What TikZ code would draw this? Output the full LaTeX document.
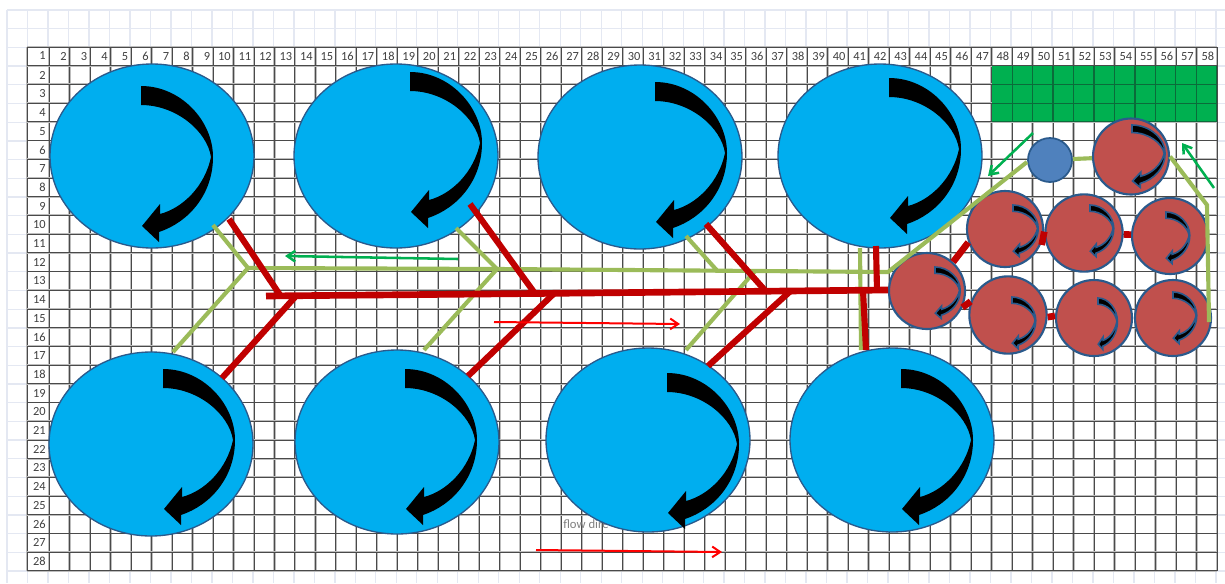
\documentclass[tikz,border=0pt]{standalone}
\usepackage{fontspec}
\setmainfont{Carlito}
\usetikzlibrary{shapes.geometric,arrows.meta}
\definecolor{lightgrid}{HTML}{E4E8F2}
\definecolor{gridhalo}{HTML}{BDBDBD}
\definecolor{griddark}{HTML}{4A4A4A}
\definecolor{vessel}{HTML}{00AEEF}
\definecolor{edgeblue}{HTML}{2A5A8C}
\definecolor{brick}{HTML}{C0504D}
\definecolor{steel}{HTML}{4F81BD}
\definecolor{pipered}{HTML}{C00000}
\definecolor{pipegreen}{HTML}{9BBB59}
\definecolor{flowgreen}{HTML}{00B050}
\definecolor{flowgreenline}{HTML}{0B6B3A}
\tikzset{
  bigtank/.style={ellipse,draw=edgeblue,line width=1pt,fill=vessel,minimum width=153pt,minimum height=138pt,inner sep=0pt},
  smalltank/.style={circle,draw=edgeblue,line width=1.6pt,fill=brick,minimum size=57pt,inner sep=0pt},
  bluetank/.style={circle,draw=edgeblue,line width=1.3pt,fill=steel,minimum size=33pt,inner sep=0pt},
  redpipe/.style={draw=pipered,line width=5pt},
  thinredpipe/.style={draw=pipered,line width=4.6pt},
  greenpipe/.style={draw=pipegreen,line width=3.1pt},
  flowarrowgreen/.style={draw=flowgreen,line width=1.9pt,-{Straight Barb[length=6pt,width=8pt]}},
  flowarrowred/.style={draw=red,line width=1.5pt,-{Straight Barb[length=6pt,width=8pt]}},
  hdr/.style={anchor=east,font=\fontsize{9.3}{9.3}\selectfont,text=black!75,inner sep=0pt},
  swirl/.style={fill=black,draw=none},
  smallswirl/.style={fill=black,draw=edgeblue,line width=1.2pt},
}
\newcommand{\swirlpath}{(0,0) .. controls (40,0) and (72,35) .. (72,71)
  .. controls (72,108) and (48,136) .. (18,146) -- (18,156) -- (1,140) -- (19,118) -- (19,128)
  .. controls (42,122) and (64,100) .. (70,71) .. controls (66,45) and (35,19) .. (0,19) -- cycle}
\begin{document}
\begin{tikzpicture}[x=0.75pt,y=-0.75pt]
\useasboundingbox (0,0) rectangle (1225,583);
\fill[white] (0,0) rectangle (1225,583);
% pale sheet behind the table
\foreach \i in {0,...,59} \draw[lightgrid,line width=1pt] ({7+20.49*\i},10) -- ({7+20.49*\i},583);
\foreach \j in {0,...,30} \draw[lightgrid,line width=1pt] (7,{10+18.7*\j}) -- (1225,{10+18.7*\j});
\fill[white] (27,47) rectangle (1217,571);
% table grid
\foreach \i in {0,...,58} {
  \pgfmathsetmacro{\gx}{\i==0 ? 27 : 49+20.49*(\i-1)}
  \draw[gridhalo,line width=1.7pt] (\gx,47) -- (\gx,571);
  \draw[griddark,line width=.6pt] (\gx,47) -- (\gx,571);
}
\foreach \j in {0,...,28} {
  \draw[gridhalo,line width=1.4pt] (27,{47+18.71*\j}) -- (1217,{47+18.71*\j});
  \draw[griddark,line width=.6pt] (27,{47+18.71*\j}) -- (1217,{47+18.71*\j});
}
% green block, with its own darker cell lines
\fill[flowgreen] (992,66) rectangle (1217,121);
\begin{scope}
\clip (992,66) rectangle (1217,121);
\foreach \i in {47,...,58} \draw[flowgreenline,line width=.8pt] ({49+20.49*(\i-1)},66) -- ({49+20.49*(\i-1)},121);
\foreach \j in {1,...,4} \draw[flowgreenline,line width=.8pt] (992,{47+18.71*\j}) -- (1217,{47+18.71*\j});
\end{scope}
\node[hdr] (c1) at (46,56) {1};
\foreach \i in {2,...,58} \node[hdr] (c\i) at ({49+20.49*(\i-1)-2.5},56.5) {\i};
\foreach \j in {2,...,28} \node[hdr] (r\j) at (46,{47+18.71*(\j-.5)}) {\j};
\node[anchor=west,inner sep=0pt,text=black!50,font=\fontsize{9.5}{9.5}\selectfont] (flowtext) at (563,524) {flow dire};
% tanks
\node[bigtank] (E1) at (152,156) {};
\node[bigtank] (E2) at (396,156) {};
\node[bigtank] (E3) at (640,157) {};
\node[bigtank] (E4) at (880,156) {};
\node[bigtank] (E5) at (151,444) {};
\node[bigtank] (E6) at (397,442) {};
\node[bigtank] (E7) at (648,440) {};
\node[bigtank] (E8) at (892,440) {};
\foreach \ax/\ay in {141/86,410/72,655/82,889/78,163/369,405/369,667/373,901/369}
  \path[swirl,shift={(\ax,\ay)}] \swirlpath;
\node[smalltank] (R0) at (1131,156.5) {};
\node[smalltank] (R1) at (1005,229) {};
\node[smalltank,minimum size=58pt] (R2) at (1084,233) {};
\node[smalltank] (R3) at (1170,236) {};
\node[smalltank] (R4) at (927,291) {};
\node[smalltank,minimum size=58pt] (R5) at (1008,315) {};
\node[smalltank] (R6) at (1094,318) {};
\node[smalltank] (R7) at (1173,318) {};
\node[bluetank] (B0) at (1050,160) {};
\path[smallswirl,shift={(1132,125)},xscale=.46,yscale=.40] \swirlpath;
\foreach \ax/\ay/\sx in {1013/205/.35,1090/205/.33,1166/212/.33,935/267/.35,1012/297/.33,1098/298/.27,1173/292/.33}
  \path[smallswirl,shift={(\ax,\ay)},xscale=\sx,yscale=.33] \swirlpath;
% junctions and free ends
\coordinate (mainL) at (266,296);
\coordinate (mainR) at (888,290);
\coordinate (j1) at (280,295);
\coordinate (j2) at (296,296);
\coordinate (j3) at (535,293.5);
\coordinate (j4) at (554,293.5);
\coordinate (j5) at (766,291.5);
\coordinate (j6) at (790,291.5);
\coordinate (a1) at (229,219);
\coordinate (a2) at (222,378);
\coordinate (a3) at (470,204);
\coordinate (a4) at (468,376);
\coordinate (a5) at (706,224);
\coordinate (a6) at (708,366);
\coordinate (a7) at (876,246);
\coordinate (a8) at (877,290);
\coordinate (a9) at (863,290);
\coordinate (a10) at (866,350);
\coordinate (g1) at (248,268);
\coordinate (g2) at (497,269);
\coordinate (g3) at (717,270.5);
\coordinate (g4) at (755,271);
\coordinate (g5) at (888,272);
\coordinate (g6) at (1207,205);
\coordinate (g7) at (1209,322);
\coordinate (b1) at (213,225);
\coordinate (b2) at (173,352);
\coordinate (b3) at (456,228);
\coordinate (b4) at (424,350);
\coordinate (b5) at (686,236);
\coordinate (b6) at (686,350);
\coordinate (g8) at (860,248);
\coordinate (g9) at (861,350);
\coordinate (g0) at (1027,162);
% green pipework
\draw[greenpipe] (g1) -- (g2) -- (g5) -- (g0);
\draw[greenpipe] (b1) -- (g1) -- (b2);
\draw[greenpipe] (b3) -- (g2) -- (b4);
\draw[greenpipe] (b5) -- (g3);
\draw[greenpipe] (g4) -- (b6);
\draw[greenpipe] (g8) -- (g9);
\draw[greenpipe] (B0) -- (R0);
\draw[greenpipe] (R0.east) -- (g6) -- (g7);
% red pipework
\draw[redpipe] (mainL) -- (j3) -- (mainR);
\draw[thinredpipe] (a1) -- (j1);
\draw[thinredpipe] (a2) -- (j2);
\draw[thinredpipe] (a3) -- (j3);
\draw[thinredpipe] (a4) -- (j4);
\draw[thinredpipe] (a5) -- (j5);
\draw[thinredpipe] (a6) -- (j6);
\draw[thinredpipe] (a7) -- (a8);
\draw[thinredpipe] (a9) -- (a10);
\draw[redpipe] (R4.48) -- (R1.200);
\draw[redpipe,shorten <=-6pt] (R1.-12) -- (R2.178);
\draw[redpipe] (R2.-2) -- (R3.178);
\draw[redpipe] (R4.-25) -- (R5.160);
\draw[redpipe] (R5.-3) -- (R6.177);
% flow arrows
\coordinate (fa1) at (458,259);
\coordinate (fa2) at (285,256);
\coordinate (fa3) at (1033,133);
\coordinate (fa4) at (988,176);
\coordinate (fa5) at (1214,188);
\coordinate (fa6) at (1182,143);
\coordinate (fa7) at (494,322);
\coordinate (fa8) at (680,324);
\coordinate (fa9) at (536,550);
\coordinate (fa10) at (722,552);
\draw[flowarrowgreen] (fa1) -- (fa2);
\draw[flowarrowgreen] (fa3) -- (fa4);
\draw[flowarrowgreen] (fa5) -- (fa6);
\draw[flowarrowred] (fa7) -- (fa8);
\draw[flowarrowred] (fa9) -- (fa10);
\end{tikzpicture}
\end{document}
